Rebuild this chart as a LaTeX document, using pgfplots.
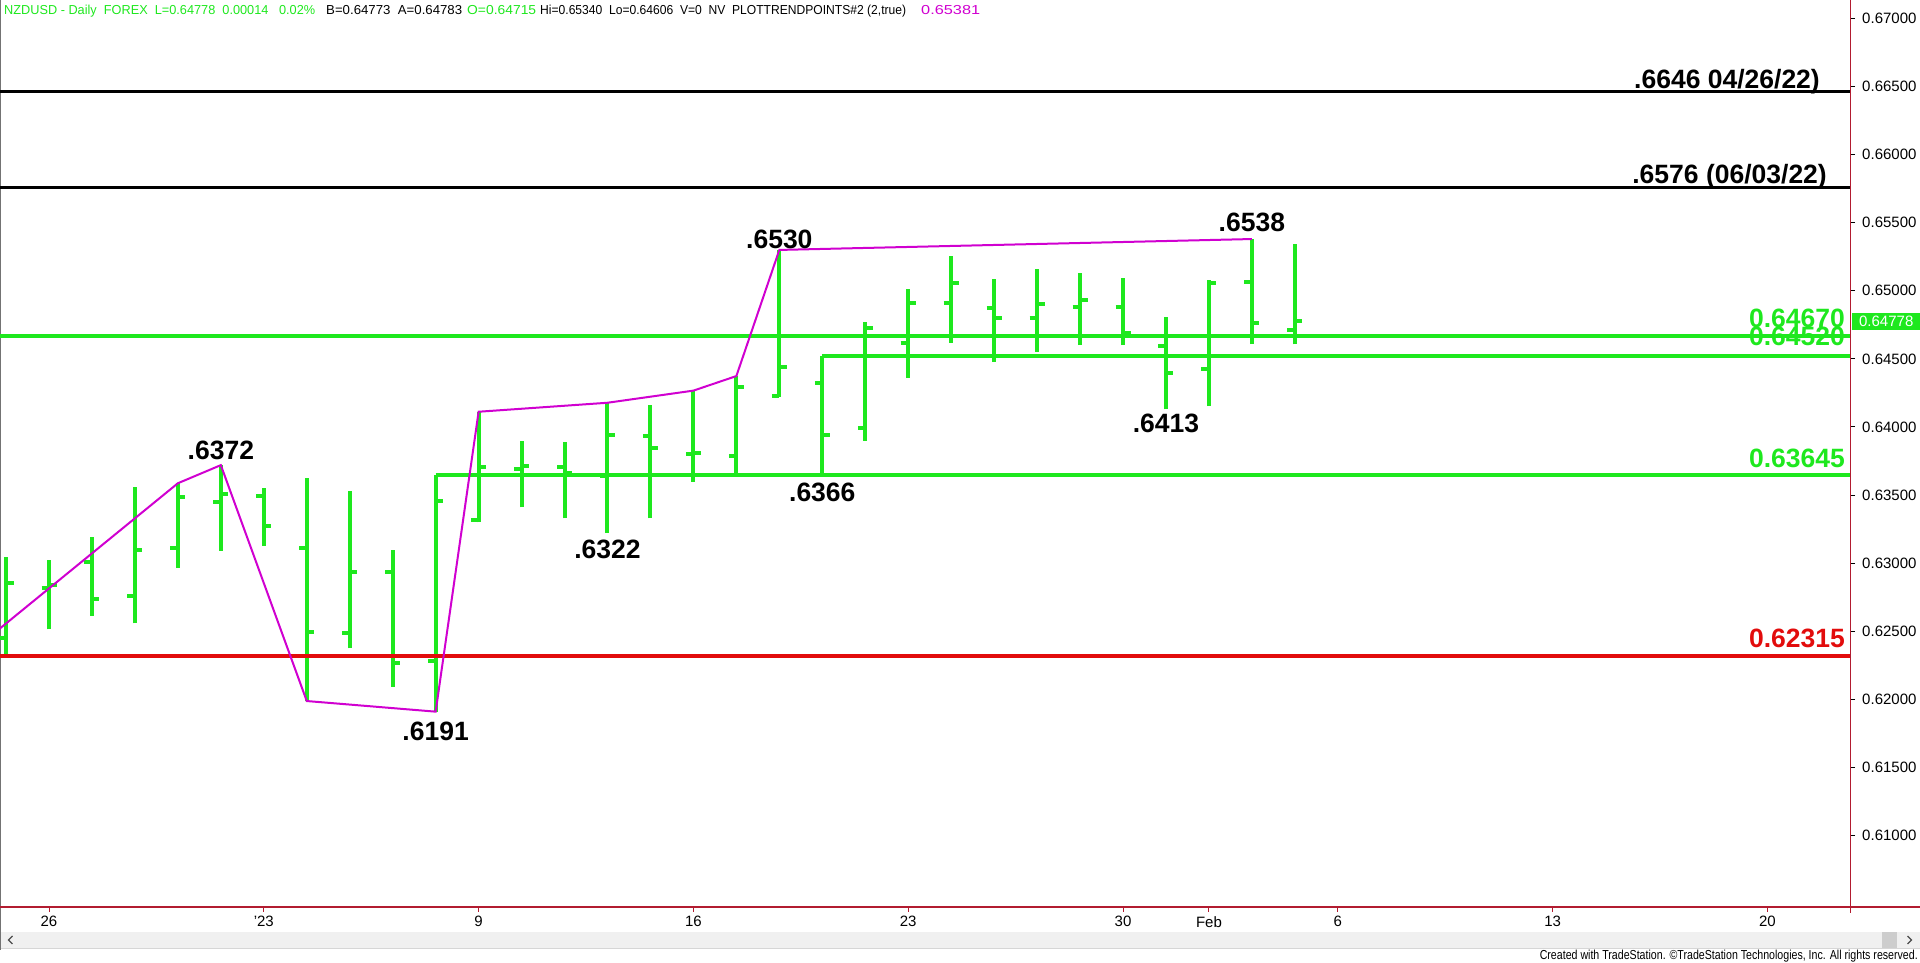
\documentclass[border=0pt]{standalone}
\usepackage{pgfplots}
\pgfplotsset{compat=1.18}
\usepackage{pgfplotstable}
\usepackage{graphicx}
\usepackage{fontspec}
\setmainfont{Liberation Sans}

\definecolor{bargreen}{RGB}{30,232,30}
\definecolor{trendmag}{RGB}{208,0,208}
\definecolor{supred}{RGB}{226,12,12}
\definecolor{axred}{RGB}{178,28,48}
\definecolor{scrollbg}{RGB}{240,240,240}
\definecolor{scrollthumb}{RGB}{205,205,205}
\definecolor{scrollline}{RGB}{214,214,214}

% open tick to the left of the bar, close tick to the right
\pgfdeclareplotmark{opentick}{%
  \pgfpathmoveto{\pgfqpoint{-7.5bp}{0pt}}%
  \pgfpathlineto{\pgfqpoint{0pt}{0pt}}%
  \pgfusepathqstroke}
\pgfdeclareplotmark{closetick}{%
  \pgfpathmoveto{\pgfqpoint{0pt}{0pt}}%
  \pgfpathlineto{\pgfqpoint{7.5bp}{0pt}}%
  \pgfusepathqstroke}

% NZDUSD daily bars, x = trading day (0 = Dec 26)
\pgfplotstableread{
x   o        h        l        c
-1  0.6245   0.63048  0.62326  0.62857
0   0.6282   0.63024  0.62515  0.6284
1   0.63011  0.6319   0.62615  0.62737
2   0.62761  0.63562  0.62559  0.63097
3   0.6311   0.63587  0.62963  0.63484
4   0.63452  0.6372   0.6309   0.63508
5   0.63493  0.63554  0.63129  0.63273
6   0.6311   0.63623  0.61988  0.62497
7   0.6249   0.63532  0.62375  0.62938
8   0.62938  0.63097  0.62093  0.62265
9   0.62284  0.63645  0.6191   0.63459
10  0.6332   0.64112  0.6330   0.63709
11  0.6369   0.639    0.6341   0.6371
12  0.63704  0.63892  0.6333   0.6366
13  0.6364   0.64178  0.6322   0.63941
14  0.63934  0.64162  0.6333   0.63844
15  0.6380   0.64267  0.63598  0.6381
16  0.63787  0.64374  0.6364   0.64296
17  0.64228  0.6530   0.64218  0.64443
18  0.64321  0.6452   0.6366   0.63941
19  0.63995  0.64773  0.639    0.64725
20  0.6462   0.65011  0.64358  0.64908
21  0.64913  0.65256  0.64619  0.65055
22  0.64872  0.65084  0.64479  0.64798
23  0.64803  0.65158  0.64553  0.64903
24  0.64879  0.65129  0.64602  0.64932
25  0.64879  0.65096  0.64602  0.64688
26  0.64597  0.64805  0.6413   0.64399
27  0.64424  0.65079  0.64154  0.65055
28  0.65067  0.6538   0.64609  0.64766
29  0.64715  0.6534   0.64606  0.64778
}\ohlc

% swing points joined by the trend-points study
\pgfplotstableread{
x   y
-2  0.6230
3   0.63587
4   0.6372
6   0.61988
9   0.6191
10  0.64112
13  0.64178
15  0.64267
16  0.64374
17  0.6530
28  0.6538
}\trendpts

\newcommand\biglbl{\fontsize{26.5bp}{30bp}\selectfont\bfseries}
\newcommand\ticklbl{\fontsize{15bp}{17bp}\selectfont}
\newcommand\hdrfont{\fontsize{13bp}{15bp}\selectfont}

\begin{document}
\begin{tikzpicture}
\useasboundingbox (0,0) rectangle (1920bp,963bp);

% window chrome: scrollbar and left border
\begin{scope}[x=1bp,y=1bp]
  \fill[scrollbg] (0,14.7) rectangle (1920,31.3);
  \draw[scrollline, line width=1bp] (0,14.2) -- (1920,14.2);
  \fill[scrollthumb] (1882,15.5) rectangle (1897,30.5);
  \draw[black!70, line width=1.2bp] (12.5,27) -- (8.5,23) -- (12.5,19);
  \draw[black!70, line width=1.2bp] (1907.5,27) -- (1911.5,23) -- (1907.5,19);
  \draw[black!55, line width=1.5bp] (0.75,13) -- (0.75,963);
\end{scope}

\begin{axis}[
  at={(0bp,56bp)}, anchor=south west,
  scale only axis, width=1850bp, height=907bp,
  xmin=-1.1406, xmax=41.923,
  ymin=0.604758, ymax=0.671351,
  axis line style={draw=none},
  clip mode=individual,
  tick align=outside,
  xtick pos=bottom, ytick pos=right, yticklabel pos=right,
  xtick={0,5,10,15,20,25,27,30,35,40},
  xticklabels={26,'23,9,16,23,30,Feb,6,13,20},
  ytick={0.61,0.615,0.62,0.625,0.63,0.635,0.64,0.645,0.65,0.655,0.66,0.665,0.67},
  scaled y ticks=false,
  major tick length=5bp,
  x tick style={draw=axred, line width=1bp},
  y tick style={draw=black, line width=1bp},
  xticklabel style={font=\ticklbl, anchor=north, inner sep=0pt, yshift=-4bp},
  yticklabel style={font=\ticklbl, anchor=west, inner sep=0pt, xshift=7bp,
    /pgf/number format/.cd, fixed, fixed zerofill, precision=5, assume math mode=true},
]

% high-low ranges
\addplot [forget plot, draw=none, mark=none,
  error bars/.cd, y dir=plus, y explicit, error mark=none,
  error bar style={line width=4bp, draw=bargreen}]
  table [x=x, y=l, y error plus expr=\thisrow{h}-\thisrow{l}] {\ohlc};
% opens and closes
\addplot [only marks, mark=opentick, mark options={solid, line width=4bp, draw=bargreen}]
  table [x=x, y=o] {\ohlc};
\addplot [only marks, mark=closetick, mark options={solid, line width=4bp, draw=bargreen}]
  table [x=x, y=c] {\ohlc};

% horizontal levels
\addplot [black, line width=3bp] coordinates {(-1.1406,0.6646) (41.923,0.6646)};
\addplot [black, line width=3bp] coordinates {(-1.1406,0.6576) (41.923,0.6576)};
\addplot [bargreen, line width=4bp] coordinates {(-1.1406,0.6467) (41.923,0.6467)};
\addplot [bargreen, line width=4bp] coordinates {(18,0.6452) (41.923,0.6452)};
\addplot [bargreen, line width=4bp] coordinates {(9,0.63645) (41.923,0.63645)};
\addplot [supred, line width=4bp] coordinates {(-1.1406,0.62315) (41.923,0.62315)};

% trend points
\addplot [trendmag, line width=2bp] table [x=x, y=y] {\trendpts};

% level labels
\node[anchor=base east, inner sep=0pt, font=\biglbl, xshift=-30bp, yshift=3.5bp]
  at (axis cs:41.923,0.6646) {.6646 04/26/22)};
\node[anchor=base east, inner sep=0pt, font=\biglbl, xshift=-23bp, yshift=3.5bp]
  at (axis cs:41.923,0.6576) {.6576 (06/03/22)};
\node[anchor=base east, inner sep=0pt, font=\biglbl, text=bargreen, xshift=-5bp, yshift=8bp]
  at (axis cs:41.923,0.6467) {0.64670};
\node[anchor=base east, inner sep=0pt, font=\biglbl, text=bargreen, xshift=-5bp, yshift=11bp]
  at (axis cs:41.923,0.6452) {0.64520};
\node[anchor=base east, inner sep=0pt, font=\biglbl, text=bargreen, xshift=-5bp, yshift=8bp]
  at (axis cs:41.923,0.63645) {0.63645};
\node[anchor=base east, inner sep=0pt, font=\biglbl, text=supred, xshift=-5bp, yshift=9bp]
  at (axis cs:41.923,0.62315) {0.62315};

% swing highs and lows
\node[anchor=base, inner sep=0pt, font=\biglbl, yshift=6bp] at (axis cs:4,0.6372) {.6372};
\node[anchor=base, inner sep=0pt, font=\biglbl, yshift=1bp] at (axis cs:17,0.6530) {.6530};
\node[anchor=base, inner sep=0pt, font=\biglbl, yshift=7.5bp] at (axis cs:28,0.6538) {.6538};
\node[anchor=north, inner sep=0pt, font=\biglbl, yshift=-10.5bp] at (axis cs:9,0.6191) {.6191};
\node[anchor=north, inner sep=0pt, font=\biglbl, yshift=-6.5bp] at (axis cs:13,0.6322) {.6322};
\node[anchor=north, inner sep=0pt, font=\biglbl, yshift=-9bp] at (axis cs:18,0.6366) {.6366};
\node[anchor=north, inner sep=0pt, font=\biglbl, yshift=-5bp] at (axis cs:26,0.6413) {.6413};

% last price marker
\node[anchor=west, inner sep=0pt, fill=bargreen, text=white, font=\ticklbl,
  minimum width=68bp, minimum height=17bp, xshift=2bp]
  at (axis cs:41.923,0.64778) {0.64778};
\end{axis}

% chart frame, header line and footer
\begin{scope}[x=1bp,y=1bp]
  \draw[axred, line width=1.5bp] (0,56) -- (1920,56);
  \draw[axred, line width=1.5bp] (1850.5,50) -- (1850.5,963);
  \node[anchor=base west, inner sep=0pt, font=\hdrfont, text=bargreen] at (4,948.5)
    {\resizebox{311bp}{\height}{NZDUSD - Daily\ \ FOREX\ \ L=0.64778\ \ 0.00014\ \ \ 0.02\%}};
  \node[anchor=base west, inner sep=0pt, font=\hdrfont] at (326,948.5)
    {\resizebox{136bp}{\height}{B=0.64773\ \ A=0.64783}};
  \node[anchor=base west, inner sep=0pt, font=\hdrfont, text=bargreen] at (467,948.5)
    {\resizebox{69bp}{\height}{O=0.64715}};
  \node[anchor=base west, inner sep=0pt, font=\hdrfont] at (540,948.5)
    {\resizebox{366bp}{\height}{Hi=0.65340\ \ Lo=0.64606\ \ V=0\ \ NV\ \ PLOTTRENDPOINTS\#2 (2,true)}};
  \node[anchor=base west, inner sep=0pt, font=\hdrfont, text=trendmag] at (921,948.5)
    {\resizebox{59bp}{\height}{0.65381}};
  \node[anchor=base east, inner sep=0pt, font=\hdrfont] at (1918,3.5)
    {\resizebox{378bp}{\height}{Created with TradeStation. ©TradeStation Technologies, Inc. All rights reserved.}};
\end{scope}
\end{tikzpicture}
\end{document}
